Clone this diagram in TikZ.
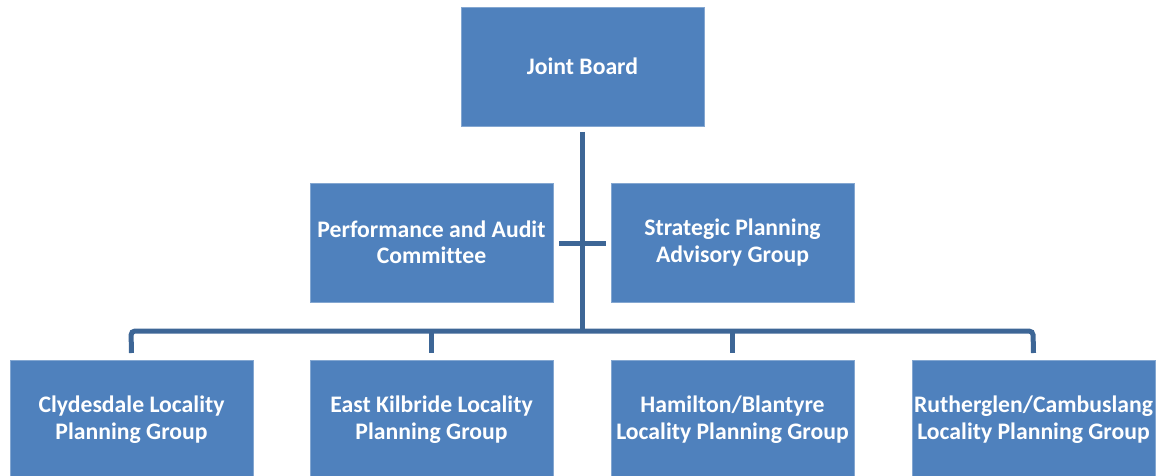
\documentclass[tikz,border=0pt]{standalone}
\usepackage{fontspec}
\setmainfont[Ligatures=NoCommon]{Carlito}
\definecolor{boxblue}{HTML}{4F81BD}
\definecolor{lineblue}{HTML}{3D6696}
\begin{document}
\begin{tikzpicture}[x=1pt,y=-1pt,
  box/.style={draw=boxblue!70!white, line width=0.8pt, fill=boxblue, minimum width=243pt, minimum height=119pt,
    inner sep=0pt, align=center, text=white, font=\fontsize{23.7}{26.5}\selectfont\bfseries},
  conn/.style={draw=lineblue, line width=5pt},
  busline/.style={draw=lineblue, line width=5pt, rounded corners=4pt}]
\useasboundingbox (0,0) rectangle (1157,476);
\begin{scope}
\clip (0,0) rectangle (1157,476);
\node[box] (jb) at (582.5,66.5) {Joint Board};
\node[box] (pa) at (431.5,242.5) {Performance and Audit\\Committee};
\node[box] (sp) at (732.5,242.5) {Strategic Planning\\Advisory Group};
\node[box] (cl) at (131.5,419.5) {Clydesdale Locality\\Planning Group};
\node[box] (ek) at (431.5,419.5) {East Kilbride Locality\\Planning Group};
\node[box] (hb) at (732.5,419.5) {Hamilton/Blantyre\\Locality Planning Group};
\node[box] (rc) at (1033.5,419.5) {Rutherglen/Cambuslang\\Locality Planning Group};
\coordinate (top) at (582,132);
\coordinate (bus) at (582,331);
\coordinate (cl') at (131,331);
\coordinate (rc') at (1033,331);
\coordinate (xl) at (559,243);
\coordinate (xr) at (606,243);
\draw[conn] (top) -- (bus);
\draw[conn] (xl) -- (xr);
\draw[busline] (cl.north |- 0,353) -- (cl') -- (rc') -- (rc.north |- 0,353);
\draw[conn] (ek.north |- bus) -- (ek.north |- 0,353);
\draw[conn] (hb.north |- bus) -- (hb.north |- 0,353);
\end{scope}
\end{tikzpicture}
\end{document}
